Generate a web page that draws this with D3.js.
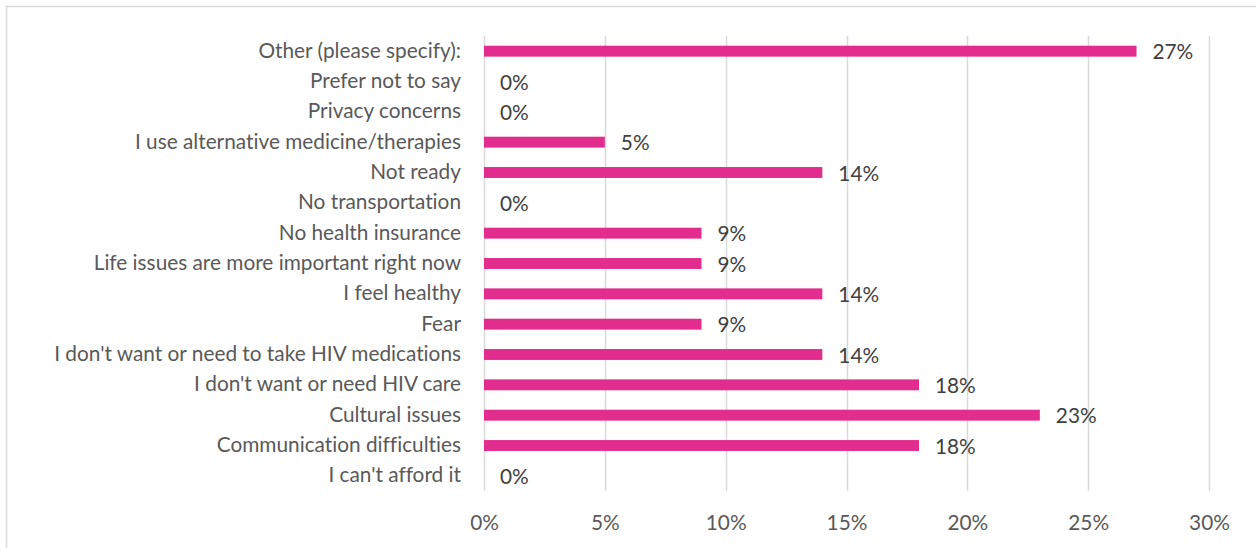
<!DOCTYPE html>
<html>
<head>
<meta charset="utf-8">
<script src="https://cdn.jsdelivr.net/npm/d3@7"></script>
<style>
  body { margin: 0; background: #fff; }
  svg { display: block; font-family: Lato, "Open Sans", sans-serif; font-variant-ligatures: none; }
</style>
</head>
<body>
<div id="chart-area"></div>
<script>
const categories = [
  "Other (please specify):",
  "Prefer not to say",
  "Privacy concerns",
  "I use alternative medicine/therapies",
  "Not ready",
  "No transportation",
  "No health insurance",
  "Life issues are more important right now",
  "I feel healthy",
  "Fear",
  "I don't want or need to take HIV medications",
  "I don't want or need HIV care",
  "Cultural issues",
  "Communication difficulties",
  "I can't afford it"
];
const values = [27, 0, 0, 5, 14, 0, 9, 9, 14, 9, 14, 18, 23, 18, 0];
const xTicks = [0, 5, 10, 15, 20, 25, 30];

const W = 1256, H = 548;
const margin = {left: 484, right: 47, top: 36, bottom: 57};
const width = W - margin.left - margin.right,
    height = H - margin.top - margin.bottom;
const fontSize = '20.8px';

const svg = d3.select('#chart-area')
    .append('svg')
    .attr('width', W)
    .attr('height', H);

// chart frame
svg.append('rect')
    .attr('x', 6.5).attr('y', 6.5)
    .attr('width', W + 20).attr('height', H + 20)
    .attr('fill', 'none')
    .attr('stroke', '#d9d9d9')
    .attr('stroke-width', 1.5);

const g = svg.append('g')
    .attr('transform', 'translate(' + margin.left + ', ' + margin.top + ')');

const xScale = d3.scaleLinear()
    .domain([0, 30])
    .range([0, width]);

const yScale = d3.scaleBand()
    .domain(categories)
    .range([0, height])
    .paddingInner(0.64)
    .paddingOuter(0.32);

// gridlines
g.selectAll('.grid')
    .data(xTicks)
    .enter().append('line')
    .attr('x1', d => Math.round(xScale(d)) + 0.5)
    .attr('x2', d => Math.round(xScale(d)) + 0.5)
    .attr('y1', 0)
    .attr('y2', height)
    .attr('stroke', '#d9d9d9')
    .attr('stroke-width', 1.5);

// x axis labels
const xAxis = d3.axisBottom(xScale)
    .tickValues(xTicks)
    .tickFormat(d => d + '%')
    .tickSize(0)
    .tickPadding(24);

g.append('g')
    .attr('transform', 'translate(0, ' + height + ')')
    .call(xAxis)
    .call(s => s.select('.domain').remove())
    .selectAll('text')
    .attr('fill', '#595959')
    .attr('font-size', fontSize)
    .attr('font-family', 'Lato, "Open Sans", sans-serif');

// y axis labels
const yAxis = d3.axisLeft(yScale)
    .tickSize(0)
    .tickPadding(23);

g.append('g')
    .call(yAxis)
    .call(s => s.select('.domain').remove())
    .selectAll('text')
    .attr('fill', '#595959')
    .attr('font-size', fontSize)
    .attr('font-family', 'Lato, "Open Sans", sans-serif');

// bars
g.selectAll('.bar')
    .data(values)
    .enter().append('rect')
    .attr('x', xScale(0))
    .attr('y', (d, i) => yScale(categories[i]))
    .attr('width', d => xScale(d) - xScale(0))
    .attr('height', yScale.bandwidth())
    .attr('fill', '#e32d8e');

// value labels
g.selectAll('.val')
    .data(values)
    .enter().append('text')
    .attr('x', d => xScale(d) + 16)
    .attr('y', (d, i) => yScale(categories[i]) + yScale.bandwidth() / 2)
    .attr('dy', '0.4em')
    .attr('fill', '#404040')
    .attr('font-size', fontSize)
    .text(d => d + '%');
</script>
</body>
</html>
